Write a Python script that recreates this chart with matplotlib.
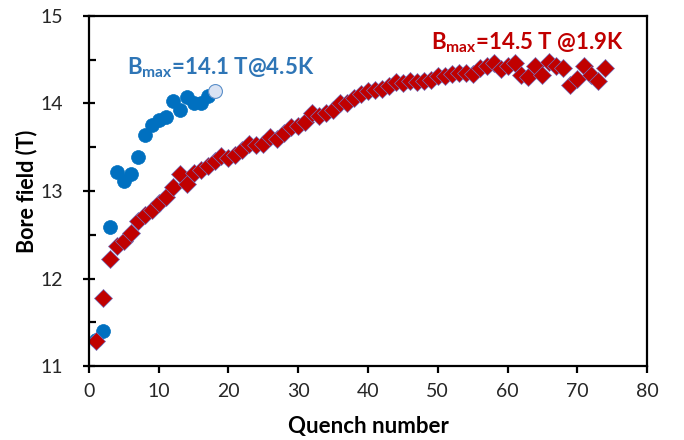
import matplotlib
matplotlib.use('Agg')
import matplotlib.pyplot as plt
from matplotlib.ticker import MultipleLocator

plt.rcParams['font.family'] = ['Lato', 'DejaVu Sans']
plt.rcParams['mathtext.fontset'] = 'custom'
plt.rcParams['mathtext.rm'] = 'Lato'
plt.rcParams['mathtext.bf'] = 'Lato:bold'

BLUE = '#0070C0'
LIGHT_BLUE = '#DAE3F3'
RED = '#C00000'
TEXT = '#262626'

# Training at 4.5 K
quench_45k = list(range(1, 19))
field_45k = [11.30, 11.40, 12.59, 13.22, 13.11, 13.19, 13.39, 13.64, 13.75,
             13.81, 13.84, 14.03, 13.93, 14.07, 14.01, 14.01, 14.09, 14.14]

# Training at 1.9 K
quench_19k = list(range(1, 75))
field_19k = [11.29, 11.78, 12.22, 12.37, 12.43, 12.52, 12.66, 12.73, 12.78, 12.86,
             12.93, 13.04, 13.19, 13.08, 13.20, 13.24, 13.28, 13.34, 13.40, 13.38,
             13.41, 13.47, 13.54, 13.52, 13.54, 13.62, 13.59, 13.66, 13.73, 13.74,
             13.79, 13.89, 13.86, 13.89, 13.93, 14.01, 14.01, 14.06, 14.11, 14.14,
             14.15, 14.17, 14.20, 14.24, 14.23, 14.26, 14.24, 14.26, 14.27, 14.31,
             14.31, 14.34, 14.35, 14.35, 14.34, 14.41, 14.43, 14.46, 14.39, 14.43,
             14.46, 14.32, 14.30, 14.43, 14.33, 14.47, 14.43, 14.41, 14.21, 14.28,
             14.43, 14.33, 14.26, 14.41]

fig = plt.figure(figsize=(6.84, 4.4), dpi=100)
ax = fig.add_axes([0.130, 0.168, 0.816, 0.796])

# last 4.5 K quench is drawn hollow
ax.plot(quench_45k[:-1], field_45k[:-1], 'o', color=BLUE, markersize=10,
        markeredgecolor=BLUE, markeredgewidth=0.5)
ax.plot(quench_45k[-1:], field_45k[-1:], 'o', color=LIGHT_BLUE, markersize=10,
        markeredgecolor='#5B8FC9', markeredgewidth=0.8)
ax.plot(quench_19k, field_19k, 'D', color=RED, markersize=8.8,
        markeredgecolor='#7474C0', markeredgewidth=0.5)

ax.text(5.5, 14.33, r'B$_{\mathbf{max}}$=14.1 T@4.5K', color='#2E75B6',
        fontsize=16, fontweight='bold')
ax.text(49.0, 14.62, r'B$_{\mathbf{max}}$=14.5 T @1.9K', color=RED,
        fontsize=16, fontweight='bold')

ax.set_xlim(0, 80)
ax.set_ylim(11, 15)
ax.xaxis.set_major_locator(MultipleLocator(10))
ax.yaxis.set_major_locator(MultipleLocator(1))
ax.yaxis.set_minor_locator(MultipleLocator(0.5))

for side in ['top', 'bottom', 'left', 'right']:
    ax.spines[side].set_linewidth(1.6)
ax.tick_params(axis='x', direction='out', length=5, width=1.6,
               labelsize=14, labelcolor=TEXT, pad=7)
ax.tick_params(axis='y', which='major', direction='inout', length=9, width=1.6,
               labelsize=14, labelcolor=TEXT, pad=14)
ax.tick_params(axis='y', which='minor', direction='in', length=5, width=1.6)

ax.set_xlabel('Quench number', fontsize=16, fontweight='bold', color='black',
              labelpad=12)
ax.set_ylabel('Bore field (T)', fontsize=15.5, fontweight='bold', color='black',
              labelpad=2)

fig.savefig('out.png', dpi=100)
